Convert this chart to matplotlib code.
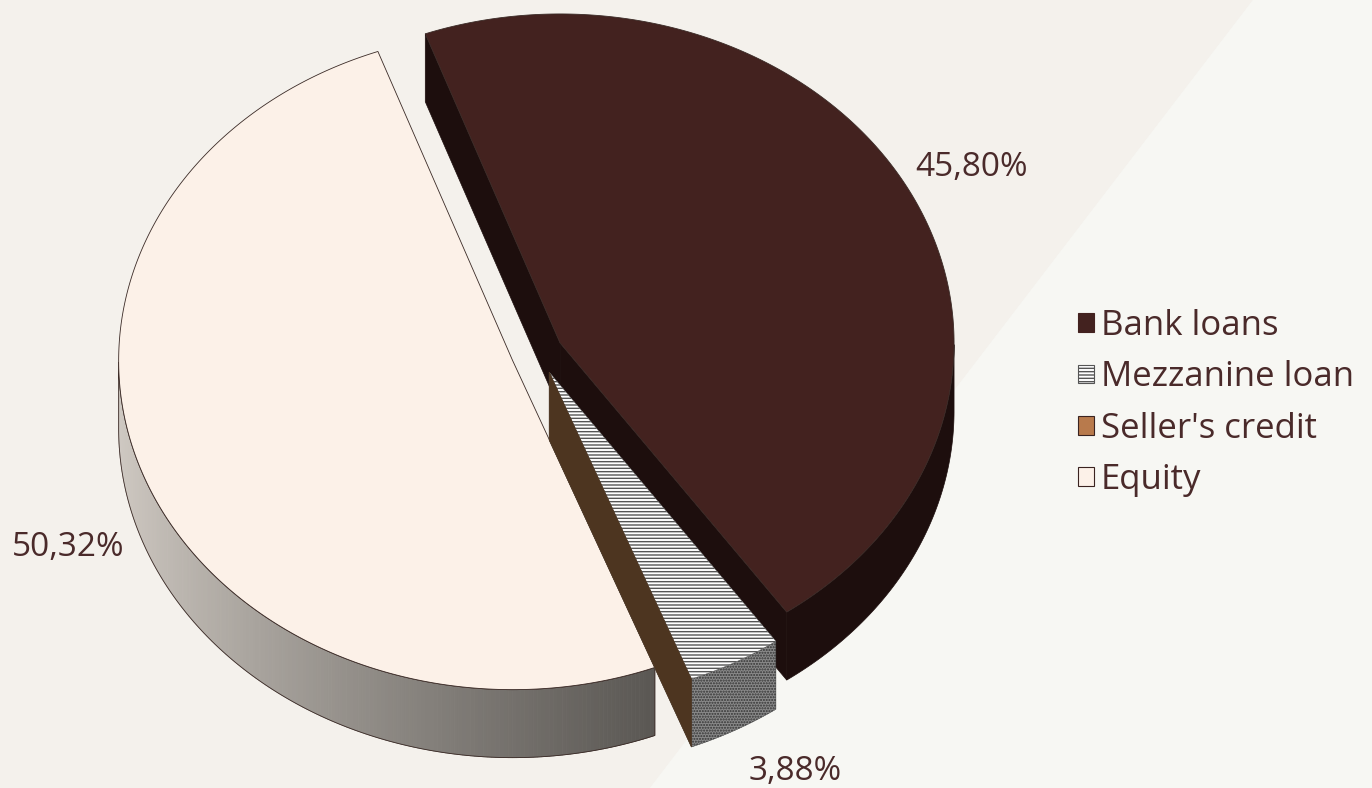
"""Exploded 3D pie: financing structure (bank loans, mezzanine, seller's credit, equity)."""

import matplotlib
matplotlib.use("Agg")
import matplotlib.pyplot as plt
import numpy as np
from matplotlib.patches import Patch, Polygon

# data
labels = ["Bank loans", "Mezzanine loan", "Seller's credit", "Equity"]
shares = [45.80, 3.88, 0.0, 50.32]
pct_text = ["45,80%", "3,88%", None, "50,32%"]

# styling
TOP = ["#43221f", "#ffffff", "#b87a4c", "#fcf1e8"]
WALL = ["#1d0e0d", "#6b6b6b", "#4d3520", "#8a8580"]
LEG_EDGE = ["#43221f", "#555555", "#3a2320", "#3a2320"]
TEXT = "#4a2a2a"
BG_LEFT, BG_RIGHT = "#f4f1ec", "#f7f7f3"
FONT = "Open Sans"

W, H = 1372, 788
CX, CY = 537, 353          # pie centre (pixels)
RX, RY = 394, 329          # projected radii
DEPTH = 68
EXPLODE = 0.066
START = 110.0              # first slice starts here and runs clockwise
LABEL_POS = [(972, 167), (795, 772), None, (68, 548)]


def arc(cx, cy, t):
    r = np.radians(t)
    return np.column_stack([cx + RX * np.cos(r), cy - RY * np.sin(r)])


def main() -> None:
    fig = plt.figure(figsize=(W / 100, H / 100), dpi=100)
    ax = fig.add_axes([0, 0, 1, 1])
    ax.set_xlim(0, W)
    ax.set_ylim(H, 0)
    ax.axis("off")

    # two-tone background
    ax.add_patch(Polygon([(0, 0), (1253, 0), (650, H), (0, H)], closed=True,
                         fc=BG_LEFT, ec="none", zorder=0))
    ax.add_patch(Polygon([(1253, 0), (W, 0), (W, H), (650, H)], closed=True,
                         fc=BG_RIGHT, ec="none", zorder=0))

    # angle ranges, clockwise from START
    spans = []
    a_hi = START
    for s in shares:
        a_lo = a_hi - s * 3.6
        spans.append((a_lo, a_hi))
        a_hi = a_lo

    # explode offsets (zero slices ride with the previous slice)
    offsets = []
    for i, (a0, a1) in enumerate(spans):
        if shares[i] == 0 and i > 0:
            offsets.append(offsets[-1])
            continue
        mid = np.radians((a0 + a1) / 2)
        offsets.append((EXPLODE * RX * np.cos(mid), -EXPLODE * RY * np.sin(mid)))

    order = [0, 3, 1, 2]
    z = 2
    for i in order:
        a0, a1 = spans[i]
        cx, cy = CX + offsets[i][0], CY + offsets[i][1]
        style = dict(lw=0.6, ec="#3a2a26", joinstyle="round")
        if i == 1:
            style = dict(lw=0.3, ec="#555555")

        # radial walls
        for edge, visible in ((a0, np.cos(np.radians(a0)) > 0),
                              (a1, np.cos(np.radians(a1)) < 0)):
            if not visible:
                continue
            p = arc(cx, cy, np.array([edge]))[0]
            quad = [(cx, cy), tuple(p), (p[0], p[1] + DEPTH), (cx, cy + DEPTH)]
            ax.add_patch(Polygon(quad, closed=True, fc=WALL[i], ec=WALL[i],
                                 lw=0.5, zorder=z))
        z += 1

        # outer wall (front half only)
        if shares[i] > 0:
            t = np.linspace(a0, a1, 300)
            front = np.sin(np.radians(t)) <= 0
            t = t[front]
            if t.size > 1:
                top = arc(cx, cy, t)
                outline = np.vstack([top, top[::-1] + [0, DEPTH]])
                if i == 3:
                    # gradient shading light -> dark
                    light = np.array(matplotlib.colors.to_rgb("#d0cac3"))
                    dark = np.array(matplotlib.colors.to_rgb("#5a5753"))
                    for k in range(len(t) - 1):
                        f = (top[k, 0] - top[0, 0]) / (top[-1, 0] - top[0, 0])
                        col = light + (dark - light) * f ** 0.8
                        q = [tuple(top[k]), tuple(top[k + 1]),
                             (top[k + 1, 0], top[k + 1, 1] + DEPTH),
                             (top[k, 0], top[k, 1] + DEPTH)]
                        ax.add_patch(Polygon(q, closed=True, fc=col, ec=col,
                                             lw=0.6, zorder=z))
                    ax.add_patch(Polygon(outline, closed=True, fc="none",
                                         ec="#3a2a26", lw=0.6, zorder=z))
                elif i == 1:
                    ax.add_patch(Polygon(outline, closed=True, fc="#8a8a8a",
                                         ec="#333333", hatch="......", lw=0.3,
                                         zorder=z))
                else:
                    ax.add_patch(Polygon(outline, closed=True, fc=WALL[i],
                                         ec=WALL[i], lw=0.5, zorder=z))
        z += 1

        # top face
        if shares[i] > 0:
            t = np.linspace(a0, a1, 300)
            face = np.vstack([[cx, cy], arc(cx, cy, t)])
            kw = dict(fc=TOP[i], **style)
            if i == 1:
                kw["hatch"] = "-----"
            ax.add_patch(Polygon(face, closed=True, zorder=z, **kw))
        z += 1

    # percentage labels
    for txt, pos in zip(pct_text, LABEL_POS):
        if txt is None:
            continue
        ax.text(pos[0], pos[1], txt, ha="center", va="center", fontsize=24,
                color=TEXT, family=FONT, zorder=20)

    # legend
    handles = []
    for i, lab in enumerate(labels):
        kw = dict(fc=TOP[i], ec=LEG_EDGE[i], lw=0.8, label=lab)
        if i == 1:
            kw["hatch"] = "-----"
        handles.append(Patch(**kw))
    leg = ax.legend(handles=handles, loc="center left",
                    bbox_to_anchor=(1078 / W, 1 - 403 / H), frameon=False,
                    borderpad=0, borderaxespad=0,
                    handlelength=0.45, handleheight=0.45, handletextpad=0.2,
                    labelspacing=0.5,
                    prop=dict(family=FONT, size=25))
    for t in leg.get_texts():
        t.set_color(TEXT)

    fig.savefig("out.png", dpi=100, facecolor=BG_RIGHT)


if __name__ == "__main__":
    main()
